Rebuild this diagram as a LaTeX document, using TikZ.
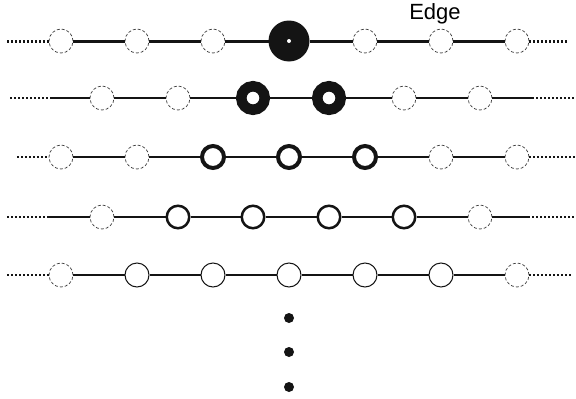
\documentclass[tikz,border=0pt]{standalone}
\usepackage{fontspec}
\setmainfont{Liberation Sans}
\begin{document}
\begin{tikzpicture}[x=1pt,y=-1pt,
  spot/.style={circle,minimum size=#1,inner sep=0pt,outer sep=0pt},
  ghost/.style={circle,draw=black!75,densely dashed,line width=0.7pt,minimum size=24pt,inner sep=0pt,fill=white},
  ringA/.style={draw=black!92,line width=10.5pt,fill=white},
  ringB/.style={draw=black!92,line width=4pt,fill=white},
  ringC/.style={draw=black!92,line width=2.5pt,fill=white},
  ringD/.style={draw=black!92,line width=1pt,fill=white},
  thickedge/.style={draw=black!92,line width=3pt},
  edge/.style={draw=black!92,line width=1.5pt},
  dotthick/.style={draw=black!92,line width=3pt,dash pattern=on 2pt off 2pt},
  dotthin/.style={draw=black!92,line width=1.8pt,dash pattern=on 2pt off 2pt},
  bigdot/.style={circle,fill=black!92,minimum size=10pt,inner sep=0pt}]
\useasboundingbox (0,0) rectangle (576,399);
% Row 1
\node[ghost] (a1) at (61,41) {};
\node[ghost] (a2) at (137,41) {};
\node[ghost] (a3) at (213,41) {};
\node[spot=41pt,fill=black!92] (a4) at (289,41) {};
\fill[white] (a4.center) circle (2pt);
\node[ghost] (a5) at (365,41) {};
\node[ghost] (a6) at (441,41) {};
\node[ghost] (a7) at (517,41) {};
\coordinate (a0) at (7,41);
\coordinate (a8) at (567,41);
\draw[dotthick] (a0) -- (a1);
\draw[thickedge] (a1) -- (a2);
\draw[thickedge] (a2) -- (a3);
\draw[thickedge] (a3) -- (a4);
\draw[thickedge] (a4) -- (a5);
\draw[thickedge] (a5) -- (a6);
\draw[thickedge] (a6) -- (a7);
\draw[dotthick] (a7) -- (a8);
\node[font=\fontsize{22}{24}\selectfont,anchor=base,inner sep=0pt] (lbl) at (435,19) {Edge};
% Row 2
\node[ghost] (b1) at (102,98) {};
\node[ghost] (b2) at (178,98) {};
\node[spot=34pt] (b3) at (253,98) {};
\node[spot=34pt] (b4) at (329,98) {};
\node[ghost] (b5) at (404,98) {};
\node[ghost] (b6) at (480,98) {};
\coordinate (b0) at (10,98);
\coordinate (b0s) at (52,98);
\coordinate (b7s) at (532,98);
\coordinate (b7) at (576,98);
\draw[dotthin] (b0) -- (b0s);
\draw[edge] (b0s) -- (b1);
\draw[edge] (b1) -- (b2);
\draw[edge] (b2) -- (b3);
\draw[edge] (b3) -- (b4);
\draw[edge] (b4) -- (b5);
\draw[edge] (b5) -- (b6);
\draw[edge] (b6) -- (b7s);
\draw[dotthin] (b7s) -- (b7);
\draw[ringA] (b3.center) circle (11.75pt);
\draw[ringA] (b4.center) circle (11.75pt);
% Row 3
\node[ghost] (c1) at (61,157) {};
\node[ghost] (c2) at (137,157) {};
\node[spot=26pt] (c3) at (213,157) {};
\node[spot=26pt] (c4) at (289,157) {};
\node[spot=26pt] (c5) at (365,157) {};
\node[ghost] (c6) at (441,157) {};
\node[ghost] (c7) at (517,157) {};
\coordinate (c0) at (17,157);
\coordinate (c8) at (576,157);
\draw[dotthin] (c0) -- (c1);
\draw[edge] (c1) -- (c2);
\draw[edge] (c2) -- (c3);
\draw[edge] (c3) -- (c4);
\draw[edge] (c4) -- (c5);
\draw[edge] (c5) -- (c6);
\draw[edge] (c6) -- (c7);
\draw[dotthin] (c7) -- (c8);
\draw[ringB] (c3.center) circle (11pt);
\draw[ringB] (c4.center) circle (11pt);
\draw[ringB] (c5.center) circle (11pt);
% Row 4
\node[ghost] (d1) at (102,217) {};
\node[spot=25pt] (d2) at (178,217) {};
\node[spot=25pt] (d3) at (253,217) {};
\node[spot=25pt] (d4) at (329,217) {};
\node[spot=25pt] (d5) at (404,217) {};
\node[ghost] (d6) at (480,217) {};
\coordinate (d0) at (7,217);
\coordinate (d0s) at (48,217);
\coordinate (d7s) at (528,217);
\coordinate (d7) at (576,217);
\draw[dotthin] (d0) -- (d0s);
\draw[edge] (d0s) -- (d1);
\draw[edge] (d1) -- (d2);
\draw[edge] (d2) -- (d3);
\draw[edge] (d3) -- (d4);
\draw[edge] (d4) -- (d5);
\draw[edge] (d5) -- (d6);
\draw[edge] (d6) -- (d7s);
\draw[dotthin] (d7s) -- (d7);
\draw[ringC] (d2.center) circle (11.25pt);
\draw[ringC] (d3.center) circle (11.25pt);
\draw[ringC] (d4.center) circle (11.25pt);
\draw[ringC] (d5.center) circle (11.25pt);
% Row 5
\node[ghost] (e1) at (61,275) {};
\node[spot=25pt] (e2) at (137,275) {};
\node[spot=25pt] (e3) at (213,275) {};
\node[spot=25pt] (e4) at (289,275) {};
\node[spot=25pt] (e5) at (365,275) {};
\node[spot=25pt] (e6) at (441,275) {};
\node[ghost] (e7) at (517,275) {};
\coordinate (e0) at (7,275);
\coordinate (e8) at (571,275);
\draw[dotthin] (e0) -- (e1);
\draw[edge] (e1) -- (e2);
\draw[edge] (e2) -- (e3);
\draw[edge] (e3) -- (e4);
\draw[edge] (e4) -- (e5);
\draw[edge] (e5) -- (e6);
\draw[edge] (e6) -- (e7);
\draw[dotthin] (e7) -- (e8);
\draw[ringD] (e2.center) circle (12pt);
\draw[ringD] (e3.center) circle (12pt);
\draw[ringD] (e4.center) circle (12pt);
\draw[ringD] (e5.center) circle (12pt);
\draw[ringD] (e6.center) circle (12pt);
% vertical ellipsis
\node[bigdot] (v1) at (289,318) {};
\node[bigdot] (v2) at (289,352) {};
\node[bigdot] (v3) at (289,387) {};
\end{tikzpicture}
\end{document}
